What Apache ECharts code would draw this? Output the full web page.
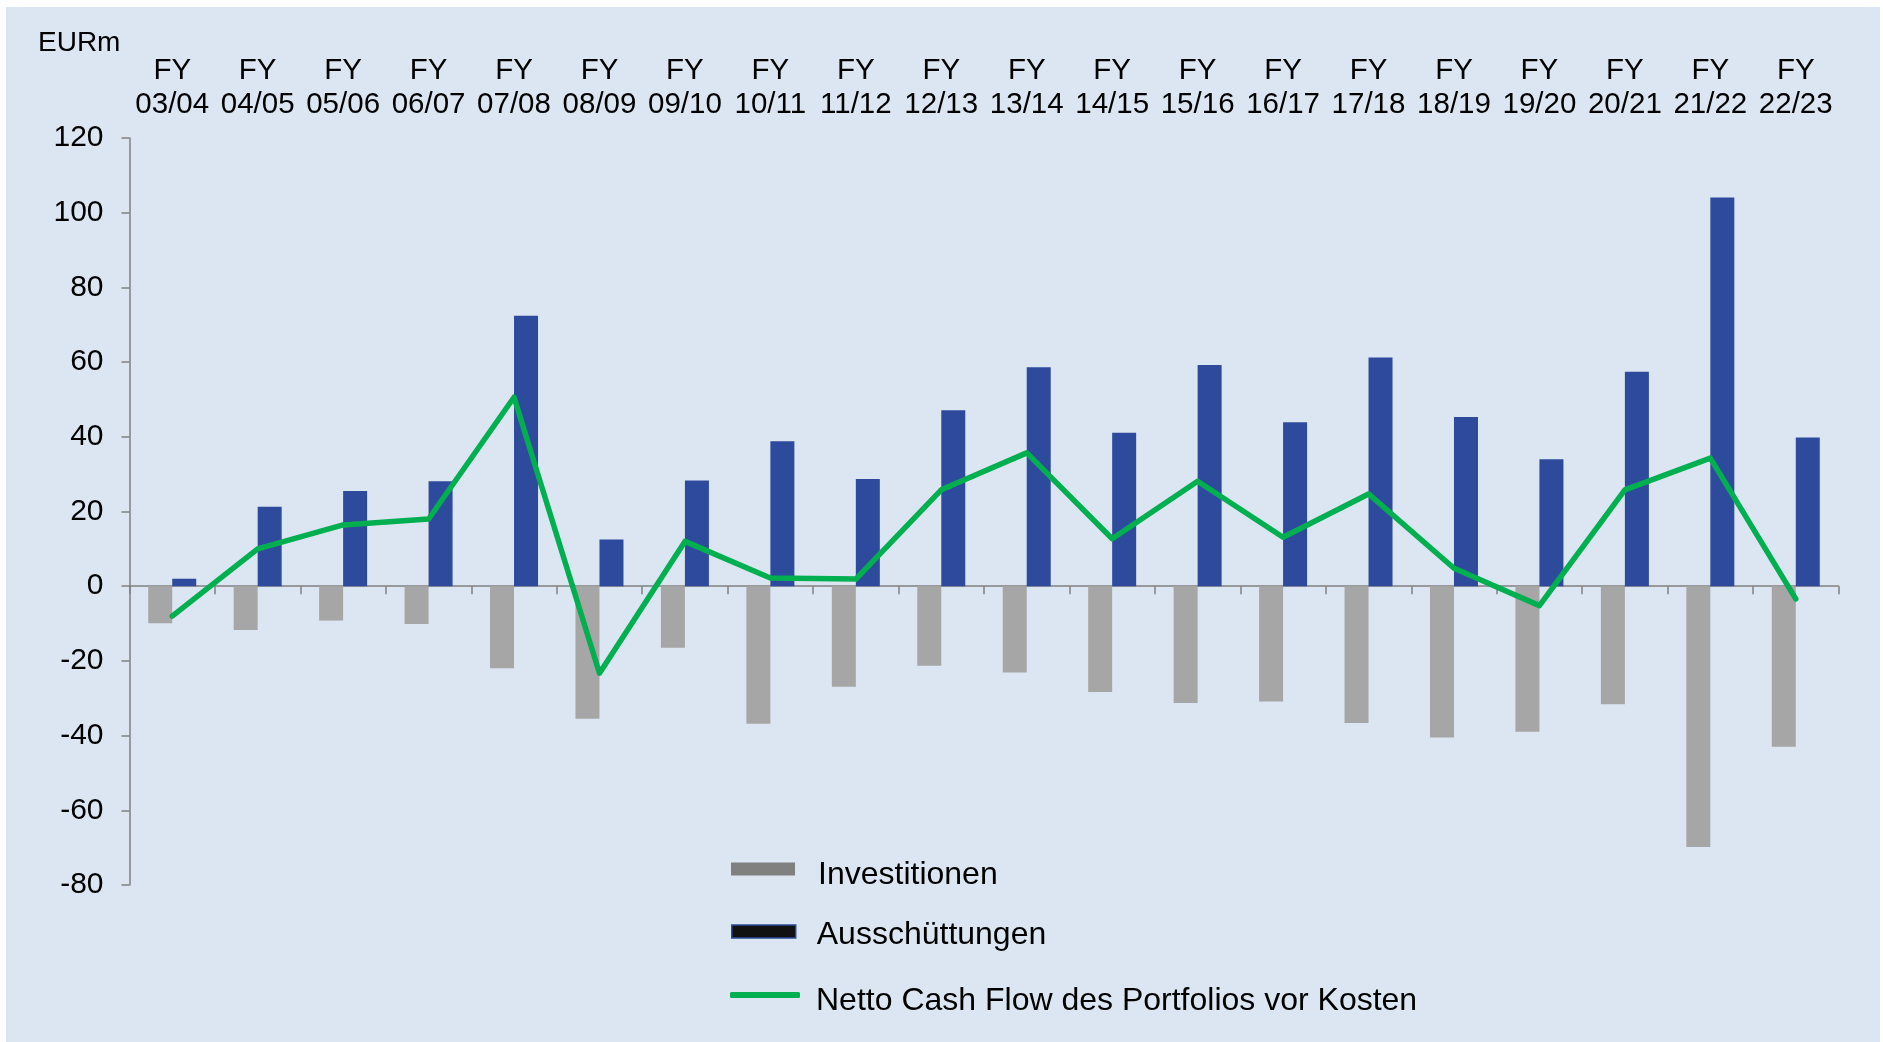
<!DOCTYPE html>
<html>
<head>
<meta charset="utf-8">
<title>Netto Cash Flow</title>
<script src="https://cdn.jsdelivr.net/npm/echarts@6/dist/echarts.min.js"></script>
<style>
  html, body { margin: 0; padding: 0; background: #ffffff; }
  #chart { position: absolute; left: 6px; top: 7px; width: 1874px; height: 1035px; }
</style>
</head>
<body>
<div id="chart"></div>
<script>
// Geschaeftsjahre
var years = ['03/04', '04/05', '05/06', '06/07', '07/08', '08/09', '09/10', '10/11', '11/12', '12/13',
  '13/14', '14/15', '15/16', '16/17', '17/18', '18/19', '19/20', '20/21', '21/22', '22/23']
// EURm
var investitionen = [-9.9, -11.7, -9.2, -10.1, -22.0, -35.5, -16.5, -36.8, -26.9, -21.3,
  -23.1, -28.3, -31.3, -30.9, -36.6, -40.5, -39.0, -31.6, -69.8, -43.0]
var ausschuettungen = [2.0, 21.3, 25.5, 28.1, 72.4, 12.5, 28.3, 38.8, 28.7, 47.1,
  58.6, 41.1, 59.2, 43.9, 61.2, 45.3, 34.0, 57.4, 104.1, 39.8]
var nettoCashFlow = [-8.0, 10.0, 16.4, 18.0, 50.6, -23.3, 12.0, 2.2, 1.9, 25.8,
  35.7, 12.7, 28.1, 13.1, 24.7, 4.8, -5.2, 25.8, 34.3, -3.4]
var yTicks = { min: -80, max: 120, step: 20 }

var fontFamily = '"Liberation Sans", Arial, sans-serif'
var axisGrey = '#808080'

var myChart = echarts.init(document.getElementById('chart'))

// Legendentext etwas tiefer als das Symbol setzen
function legendText(left, drop) {
  return {
    color: '#000',
    fontFamily: fontFamily,
    rich: {
      s: { height: drop, lineHeight: drop, fontSize: 2, padding: [0, 0, 0, left] },
      t: { fontSize: 32, lineHeight: 37, color: '#000', fontFamily: fontFamily, padding: [0, 0, 0, left] }
    }
  }
}
function legendFormat(name) {
  return '{s| }\n{t|' + name + '}'
}

var options = {
  backgroundColor: '#DCE6F2',
  animation: false,
  textStyle: { fontFamily: fontFamily, color: '#000' },
  title: {
    text: 'EURm',
    left: 32,
    top: 22,
    padding: 0,
    textStyle: { fontSize: 28, fontWeight: 'normal', color: '#000', fontFamily: fontFamily }
  },
  grid: {
    left: 123.5,
    top: 131,
    width: 1709,
    height: 747,
    containLabel: false
  },
  legend: [
    {
      orient: 'vertical',
      left: 725,
      top: 837.5,
      padding: 0,
      itemWidth: 64,
      itemHeight: 13,
      formatter: legendFormat,
      textStyle: legendText(18, 12),
      data: [{ name: 'Investitionen', icon: 'rect', itemStyle: { color: '#808080' } }]
    },
    {
      orient: 'vertical',
      left: 725,
      top: 902,
      padding: 0,
      itemWidth: 64,
      itemHeight: 13,
      formatter: legendFormat,
      textStyle: legendText(16, 8),
      data: [{ name: 'Ausschüttungen', icon: 'rect', itemStyle: { color: '#111111', borderColor: '#2E4A9C', borderWidth: 1.5 } }]
    },
    {
      orient: 'vertical',
      left: 724,
      top: 963.5,
      padding: 0,
      itemWidth: 70,
      itemHeight: 6,
      formatter: legendFormat,
      textStyle: legendText(11, 12),
      data: [{ name: 'Netto Cash Flow des Portfolios vor Kosten', icon: 'roundRect', itemStyle: { color: '#00B050' } }]
    }
  ],
  xAxis: [
    {
      type: 'category',
      data: years,
      position: 'bottom',
      boundaryGap: true,
      axisLine: { onZero: true, lineStyle: { color: axisGrey, width: 1.5 } },
      axisTick: { show: true, length: 8, lineStyle: { color: axisGrey, width: 1.5 } },
      axisLabel: { show: false },
      splitLine: { show: false }
    },
    {
      // Beschriftung oben
      type: 'category',
      data: years,
      position: 'top',
      boundaryGap: true,
      axisLine: { show: false, onZero: false },
      axisTick: { show: false },
      axisLabel: {
        show: true,
        interval: 0,
        margin: 16,
        fontSize: 29.5,
        lineHeight: 34,
        color: '#000',
        fontFamily: fontFamily,
        formatter: function(v) {
          return 'FY\n' + v
        }
      },
      splitLine: { show: false }
    }
  ],
  yAxis: {
    type: 'value',
    min: yTicks.min,
    max: yTicks.max,
    interval: yTicks.step,
    axisLine: { show: true, lineStyle: { color: axisGrey, width: 1.5 } },
    axisTick: { show: true, length: 8, lineStyle: { color: axisGrey, width: 1.5 } },
    axisLabel: { fontSize: 30, color: '#000', margin: 26, fontFamily: fontFamily },
    splitLine: { show: false }
  },
  series: [
    {
      name: 'Investitionen',
      type: 'bar',
      xAxisIndex: 0,
      data: investitionen,
      barWidth: 24,
      barGap: '0%',
      itemStyle: { color: '#A6A6A6' }
    },
    {
      name: 'Ausschüttungen',
      type: 'bar',
      xAxisIndex: 0,
      data: ausschuettungen,
      barWidth: 24,
      barGap: '0%',
      itemStyle: { color: '#2E4A9C' }
    },
    {
      name: 'Netto Cash Flow des Portfolios vor Kosten',
      type: 'line',
      xAxisIndex: 0,
      data: nettoCashFlow,
      showSymbol: false,
      symbol: 'none',
      lineStyle: { color: '#00B050', width: 5.5, cap: 'round', join: 'round' },
      itemStyle: { color: '#00B050' },
      z: 5
    }
  ]
}

myChart.setOption(options)
</script>
</body>
</html>
